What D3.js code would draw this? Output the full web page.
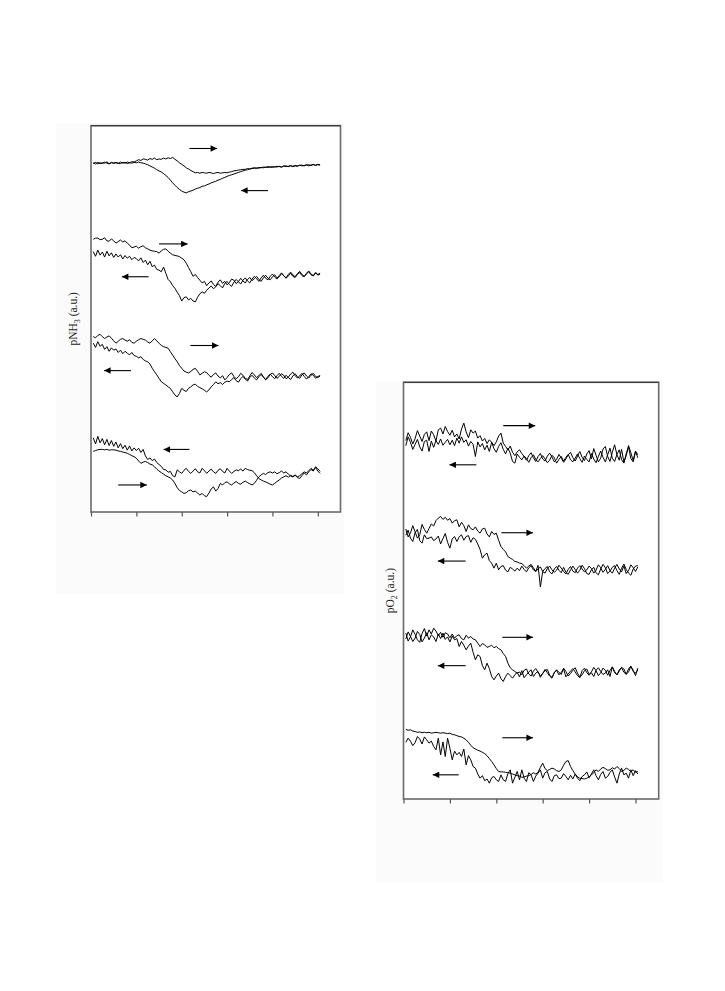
<!DOCTYPE html>
<html><head><meta charset="utf-8">
<script src="https://cdn.jsdelivr.net/npm/d3@7"></script>
<style>body{margin:0;background:#fff}</style>
</head><body>
<svg id="c" width="725" height="991"></svg>
<script>
// time axis (a.u.) — samples every 0.05 starting at 0.05
const tStart = 0.05, tStep = 0.05;
const xTicks = [0, 1, 2, 3, 4, 5];

// ---------- pNH3 (a.u.) ----------
const nh3_1a = [90.2,90.5,90.1,90.4,90.2,90.6,90.3,90.1,90.5,90.3,
 90.4,90.2,90.6,90.3,90.5,90.2,90.4,90.7,90.6,90.9,
 91.2,91.0,91.4,91.3,91.1,91.5,91.3,91.6,91.2,91.4,
 91.3,91.6,91.4,91.7,91.5,91.8,91.3,90.9,90.4,90.0,
 89.6,89.1,88.8,88.4,88.1,87.8,87.9,87.7,87.9,87.8,
 87.7,87.9,87.8,87.6,87.8,87.9,87.7,87.8,87.9,87.8,
 88.0,88.1,88.3,88.4,88.5,88.6,88.7,88.7,88.9,88.8,
 89.0,89.1,88.9,89.2,89.1,89.3,89.2,89.4,89.3,89.2,
 89.4,89.3,89.5,89.3,89.6,89.4,89.5,89.7,89.4,89.6,
 89.5,89.8,89.6,89.7,89.9,89.6,89.8,90.0,89.7,89.9,89.8];
const nh3_1b = [90.4,90.1,90.5,90.2,90.4,90.3,90.6,90.2,90.4,90.3,
 90.5,90.3,90.2,90.5,90.3,90.6,90.4,90.3,90.5,90.4,
 90.6,90.4,90.3,90.1,89.9,89.6,89.3,89.0,88.6,88.3,
 88.0,87.6,87.1,86.6,85.9,85.2,84.6,84.0,83.5,83.1,
 82.8,82.6,82.9,83.1,83.3,83.6,83.8,84.0,84.3,84.4,
 84.7,84.9,85.2,85.4,85.6,85.9,86.1,86.4,86.6,86.9,
 87.1,87.3,87.5,87.7,87.9,88.1,88.3,88.5,88.6,88.8,
 88.9,89.0,89.1,89.0,89.2,89.1,89.3,89.2,89.3,89.4,
 89.3,89.5,89.4,89.3,89.5,89.6,89.4,89.6,89.5,89.7,
 89.6,89.7,89.8,89.6,89.8,89.9,89.7,89.9,89.8,90.0,89.9];
const nh3_2a = [70.6,70.9,70.9,70.5,70.6,71.0,70.2,70.1,70.7,70.2,
 69.6,70.0,70.4,69.9,70.2,69.6,69.1,68.4,68.6,68.8,
 68.3,68.7,68.9,68.4,68.1,67.8,67.6,67.5,67.4,67.0,
 67.6,68.0,68.1,67.5,67.0,66.6,66.4,66.3,66.1,65.7,
 65.3,64.4,63.3,62.2,61.0,61.5,60.7,60.0,59.3,59.7,
 58.6,59.3,59.8,58.9,58.4,59.5,60.1,59.2,59.7,58.8,
 59.4,60.3,60.0,59.1,59.6,60.5,59.8,59.3,60.2,60.7,
 59.9,60.4,61.0,60.2,59.7,60.6,61.3,60.5,60.1,60.9,
 61.4,60.6,60.9,61.7,61.2,60.5,61.1,61.8,61.0,60.7,
 61.5,62.0,61.2,60.9,61.6,62.2,61.4,61.1,61.9,61.3,61.6];
const nh3_2b = [67.4,66.2,67.8,66.5,67.3,66.0,67.5,66.3,67.1,65.9,
 66.8,66.0,66.6,65.5,66.4,65.7,66.2,65.3,65.9,65.6,
 65.0,65.8,64.6,65.2,64.0,64.9,63.5,63.9,62.8,62.6,
 62.2,63.4,61.8,60.2,59.6,58.6,57.9,56.9,56.0,54.6,
 55.5,55.7,54.9,55.3,54.6,54.4,55.6,56.5,57.0,56.6,
 57.4,58.0,58.5,57.8,58.3,59.1,58.6,58.0,59.2,59.7,
 58.9,58.4,59.5,60.2,59.6,59.0,60.0,60.6,59.8,59.3,
 60.3,61.0,60.4,59.7,60.6,61.3,60.5,60.1,61.0,61.6,
 60.8,60.3,61.2,61.9,61.1,60.6,61.5,62.1,61.4,60.9,
 61.7,62.3,61.5,61.0,61.8,62.4,61.6,61.2,62.0,61.5,61.8];
const nh3_3a = [45.4,45.1,45.7,46.0,45.4,44.9,45.3,45.6,45.0,44.3,
 43.7,44.2,44.7,44.9,44.5,44.2,44.6,43.9,43.7,44.2,
 44.6,44.9,44.7,44.5,44.0,43.7,44.3,44.9,44.3,43.7,
 43.1,42.8,42.6,42.4,41.5,40.6,39.7,38.9,37.9,37.2,
 36.5,36.2,36.0,36.4,36.9,37.2,36.4,35.5,35.9,36.3,
 36.1,35.4,34.9,35.6,36.0,35.2,34.7,35.3,34.2,34.8,
 35.6,36.0,35.1,34.5,35.0,35.9,35.4,34.6,34.3,35.2,
 36.1,35.5,34.8,35.3,35.9,35.0,34.2,34.7,35.6,36.0,
 35.3,34.6,35.1,35.8,35.4,34.5,34.9,35.7,36.2,35.3,
 34.7,35.2,35.9,35.1,34.4,35.0,35.8,35.4,34.6,35.1,35.3];
const nh3_3b = [43.7,42.6,44.1,42.9,43.4,42.1,42.8,41.6,42.5,41.9,
 42.2,41.3,41.9,41.0,41.6,41.1,40.7,41.3,40.5,40.3,
 39.9,40.2,39.5,39.1,38.9,38.3,37.2,36.3,35.5,34.6,
 33.7,33.3,32.9,32.4,32.0,31.1,30.3,29.8,30.7,32.0,
 31.5,31.2,32.0,32.4,32.9,33.1,32.5,32.2,31.9,31.5,
 31.1,31.6,32.4,33.0,33.7,33.2,33.5,33.0,33.6,33.9,
 33.7,34.3,34.8,34.0,33.6,34.5,35.1,34.4,33.9,34.8,
 35.4,34.7,34.2,35.0,35.6,34.9,34.3,35.1,35.7,35.0,
 34.5,35.3,35.9,35.1,34.6,35.4,34.8,34.3,35.2,35.8,
 35.0,34.6,35.5,36.0,35.2,34.7,35.4,35.9,35.1,34.8,35.2];
const nh3_4a = [15.7,15.9,16.1,16.2,16.2,16.1,16.2,16.0,16.1,16.1,
 16.0,15.8,15.7,15.5,15.4,15.2,14.9,14.6,14.3,13.9,
 13.2,12.6,12.9,13.1,12.8,12.4,12.2,11.7,11.1,10.6,
 10.2,9.8,9.4,9.1,8.8,8.3,7.4,6.3,5.6,5.2,
 4.8,5.0,5.5,5.7,5.2,5.4,4.9,4.4,4.8,4.2,
 4.0,4.9,6.0,6.5,5.4,6.1,7.4,7.0,7.6,7.8,
 7.3,7.0,7.5,7.9,7.4,7.2,7.7,8.0,7.6,7.3,
 7.0,7.4,8.2,9.1,9.6,10.0,9.7,10.2,10.4,10.1,
 10.4,9.9,10.2,10.6,10.1,10.4,9.8,9.3,9.1,9.5,
 8.9,8.7,9.4,10.1,9.6,10.4,11.0,10.6,11.7,11.2,10.5];
const nh3_4b = [19.2,17.6,19.6,17.9,19.0,17.4,18.8,17.2,18.5,17.0,
 18.1,16.6,17.7,16.4,17.3,16.0,17.1,15.8,16.6,15.9,
 16.5,15.4,16.2,14.5,13.6,14.0,13.3,13.7,12.8,12.3,
 11.8,11.0,10.9,10.3,10.5,9.4,9.1,10.9,10.4,10.0,
 10.8,11.3,10.5,10.0,10.6,11.2,10.4,10.1,11.3,10.7,
 10.0,10.6,11.1,10.4,10.0,10.8,11.2,10.5,10.1,11.3,
 10.6,10.0,10.5,10.9,10.7,11.1,10.6,11.3,11.0,10.8,
 10.7,10.2,9.4,8.7,8.3,8.0,7.8,7.5,7.2,7.0,
 7.4,7.9,8.3,8.8,9.1,9.4,9.0,9.5,9.2,9.6,
 9.1,9.4,9.9,10.4,10.1,10.7,11.3,10.8,11.5,10.6,10.0];
// arrows: [from t, to t, level]
const nh3Arrows = [[2.17,2.78,94.1],[3.90,3.31,83.2],[1.50,2.13,69.4],[1.27,0.68,60.9],
 [2.19,2.81,43.1],[0.88,0.29,36.6],[2.17,1.60,16.2],[0.60,1.23,7.0]];

// ---------- pO2 (a.u.) ----------
const o2_1a = [86.0,87.9,86.8,85.2,86.5,88.4,87.1,85.8,87.5,88.1,
 86.0,88.3,87.4,85.9,88.6,89.0,87.6,89.4,88.2,87.3,
 88.5,86.9,87.6,86.4,88.8,90.2,88.1,86.7,88.6,87.8,
 88.3,86.6,87.2,85.9,86.5,85.3,86.2,85.6,84.8,85.7,
 87.1,87.8,85.4,84.6,83.8,84.7,83.2,82.4,83.3,83.8,
 82.9,82.2,81.3,82.4,83.1,81.9,81.0,82.2,82.9,81.6,
 81.1,82.3,83.0,82.1,80.9,81.5,82.7,81.8,80.8,81.6,
 82.6,83.2,81.9,81.1,82.3,83.4,82.0,81.2,82.8,83.6,
 81.6,84.1,82.5,80.9,81.8,84.0,84.6,82.2,81.0,83.2,
 85.0,82.6,81.3,83.9,80.8,82.4,84.8,83.1,81.2,83.5,82.6];
const o2_1b = [84.8,86.9,85.6,83.9,85.1,86.3,84.5,83.5,85.8,86.1,
 83.4,85.9,84.4,86.0,85.1,86.4,84.9,85.6,86.3,85.0,
 86.1,84.8,86.6,85.4,86.9,85.6,86.2,84.7,85.8,85.1,
 82.2,85.7,84.5,85.3,83.8,84.9,83.4,85.6,84.1,83.2,
 84.6,85.5,83.9,82.8,84.2,83.0,81.0,80.6,82.8,82.0,
 81.4,82.3,81.7,80.8,81.9,82.6,81.5,80.9,81.7,82.4,
 81.6,80.7,81.3,82.5,81.9,80.6,81.5,82.2,81.1,82.0,
 82.7,81.4,80.9,81.8,82.8,81.7,80.8,82.3,81.5,80.9,
 82.9,81.6,80.7,82.2,83.5,82.0,80.9,82.6,84.2,81.8,
 81.0,82.7,83.8,81.4,80.6,82.9,84.5,81.7,80.9,83.4,81.9];
const o2_2a = [64.8,62.9,63.8,65.6,64.1,62.6,63.4,65.9,64.7,63.8,
 64.9,66.0,65.5,66.8,67.4,67.8,67.1,67.6,66.9,67.3,
 66.2,66.8,67.0,65.3,66.4,65.6,64.2,65.8,64.9,64.6,
 65.3,64.3,63.8,64.8,65.0,63.6,62.9,64.2,63.5,63.8,
 62.1,60.6,59.9,59.3,58.2,57.8,57.5,57.0,56.9,56.6,
 56.5,56.0,55.4,55.9,56.3,55.5,54.6,55.2,55.7,54.6,
 54.2,55.3,55.9,55.0,54.4,54.9,56.1,55.4,54.6,54.0,
 55.1,55.8,54.7,54.3,55.4,56.0,55.2,54.5,55.0,55.9,
 55.3,54.2,54.9,56.2,55.5,54.4,55.1,56.0,54.8,54.2,
 55.4,56.3,55.2,54.5,55.9,54.1,54.8,56.2,55.5,54.6,55.7];
const o2_2b = [63.3,64.5,62.6,61.8,63.9,64.7,62.0,61.4,63.4,62.5,
 62.6,62.9,62.0,62.4,63.1,61.2,62.5,63.7,61.6,60.2,
 62.4,63.0,61.8,62.9,63.4,62.1,63.0,63.2,61.6,62.7,
 62.3,61.2,59.9,57.8,58.6,59.0,57.2,56.6,55.4,56.6,
 55.0,55.8,56.0,54.9,54.5,55.6,55.2,54.7,55.4,54.8,
 55.9,55.1,54.5,55.5,56.0,55.0,54.6,56.1,50.9,54.6,
 55.3,55.8,54.5,54.0,55.2,55.8,54.9,54.3,55.6,54.4,
 53.9,55.0,55.9,55.1,54.2,54.9,56.1,55.3,54.1,53.9,
 55.0,55.6,54.3,53.8,55.2,56.3,55.5,54.1,54.7,55.6,
 56.0,54.8,53.9,55.4,56.4,55.1,54.2,53.7,55.2,55.9,56.0];
const o2_3a = [39.8,37.9,38.9,40.6,39.5,38.2,37.6,39.7,40.9,39.1,
 40.6,39.6,41.0,40.3,39.2,40.0,38.8,39.9,39.6,38.7,
 39.6,38.6,39.2,39.4,38.5,38.2,39.3,38.6,39.0,38.4,
 38.2,37.4,36.6,37.3,37.0,36.4,36.6,36.9,36.3,36.6,
 36.1,35.8,34.9,34.2,32.6,31.5,31.0,30.6,30.2,30.5,
 29.8,30.9,31.2,30.0,29.5,30.7,31.3,30.4,29.6,30.1,
 30.8,31.1,29.7,29.2,30.3,31.0,30.4,29.9,31.4,30.6,
 29.5,30.1,30.9,31.5,30.2,29.3,29.8,30.8,31.2,29.9,
 30.5,31.6,30.8,29.6,30.3,31.4,30.9,29.7,30.8,31.7,
 30.6,29.8,31.0,31.5,30.4,30.0,31.2,31.9,30.6,30.2,31.0];
const o2_3b = [38.4,40.1,39.0,37.8,38.6,40.2,39.5,37.7,38.6,39.9,
 38.2,39.4,38.9,37.8,39.6,38.5,39.8,38.3,38.9,37.7,
 39.1,38.2,38.5,36.6,37.8,36.9,35.8,36.7,37.4,35.2,
 33.4,34.6,34.2,32.0,31.0,32.6,31.3,29.4,28.6,29.5,
 30.2,28.9,28.2,29.4,30.2,29.6,29.0,29.8,30.4,29.3,
 30.8,29.1,29.8,30.5,31.0,29.4,30.2,30.6,29.2,30.1,
 31.1,30.3,29.5,29.0,30.4,30.9,29.8,30.4,31.2,29.3,
 30.0,30.7,31.3,30.5,29.6,29.1,30.8,31.4,30.3,29.7,
 30.3,29.4,30.9,31.5,30.6,29.9,30.2,31.0,29.4,31.7,
 30.3,29.8,30.7,31.6,31.2,29.9,30.5,31.8,30.9,29.6,31.4];
const o2_4a = [16.7,16.5,16.6,16.3,16.2,16.0,16.1,15.9,16.0,15.9,
 16.0,15.8,15.9,16.0,15.9,15.8,15.9,15.8,15.7,15.8,
 15.5,15.4,15.2,15.0,14.9,14.6,14.2,13.6,12.9,12.3,
 12.0,11.7,11.5,11.2,10.9,10.4,9.7,9.0,8.2,7.3,
 6.6,6.5,6.5,6.4,6.3,6.2,6.0,5.8,5.6,5.5,
 5.2,5.3,5.5,5.6,5.9,6.3,6.0,6.4,7.6,8.6,
 7.3,6.8,7.1,7.4,7.2,6.8,6.6,7.0,8.1,9.0,
 9.2,7.8,6.8,6.0,5.3,5.0,4.9,4.8,5.0,5.3,
 5.8,6.3,7.0,6.6,7.2,7.6,7.3,6.9,7.0,7.5,
 7.2,7.8,7.3,6.6,6.9,7.4,7.1,6.6,7.0,6.4,6.6];
const o2_4b = [13.6,14.6,13.9,12.8,13.5,15.0,14.4,13.2,14.9,14.2,
 13.4,13.9,12.6,11.8,14.6,10.6,13.7,10.2,14.6,12.2,
 9.4,11.5,10.6,11.2,10.2,12.0,8.2,10.4,9.4,7.8,
 7.4,6.0,5.0,5.6,4.4,4.8,3.8,5.1,5.4,4.6,
 4.2,5.8,4.6,4.2,6.1,7.0,3.8,5.2,6.6,4.6,
 7.0,5.0,4.2,6.3,5.8,4.2,5.5,6.2,7.0,5.0,
 6.3,6.6,4.8,4.2,5.6,5.8,4.9,5.0,6.1,5.4,
 4.6,5.7,4.8,6.0,5.0,4.4,5.4,5.8,6.5,5.1,
 6.0,7.0,5.6,4.6,5.9,6.6,5.0,5.4,6.4,7.0,
 5.3,3.8,6.0,7.4,5.8,6.2,5.0,7.0,5.6,6.8,6.0];
const o2Arrows = [[2.15,2.84,89.6],[1.57,0.99,80.2],[2.11,2.79,63.9],[1.34,0.74,57.1],
 [2.13,2.79,38.8],[1.34,0.74,32.0],[2.13,2.79,14.7],[1.19,0.63,5.8]];

// ---------- drawing ----------
const svg = d3.select("#c");
svg.append("rect").attr("width",725).attr("height",991).attr("fill","#fff");
const defs = svg.append("defs");
defs.append("marker").attr("id","ah").attr("viewBox","0 0 10 10")
  .attr("refX",10).attr("refY",5).attr("markerWidth",8).attr("markerHeight",6.5)
  .attr("markerUnits","userSpaceOnUse").attr("orient","auto")
  .append("path").attr("d","M0,0L10,5L0,10Z").attr("fill","#000");

const panels = [
  {series:[nh3_1a,nh3_1b,nh3_2a,nh3_2b,nh3_3a,nh3_3b,nh3_4a,nh3_4b], arrows:nh3Arrows,
   label:["pNH","3"," (a.u.)"], box:[91,125.7,340.5,512], bg:[56,123,344,594], labelX:77},
  {series:[o2_1a,o2_1b,o2_2a,o2_2b,o2_3a,o2_3b,o2_4a,o2_4b], arrows:o2Arrows,
   label:["pO","2"," (a.u.)"], box:[403.5,382.3,658.7,799], bg:[376,381,663,883], labelX:394}
];

panels.forEach(p => {
  const [L,T,R,B] = p.box;
  svg.append("rect").attr("x",p.bg[0]).attr("y",p.bg[1])
    .attr("width",p.bg[2]-p.bg[0]).attr("height",p.bg[3]-p.bg[1]).attr("fill","#fbfbfb");
  svg.append("rect").attr("x",L).attr("y",T).attr("width",R-L).attr("height",B-T)
    .attr("fill","#fff");
  const x = d3.scaleLinear().domain([0,5.5]).range([L,R]);
  const y = d3.scaleLinear().domain([0,100]).range([B,T]);
  const g = svg.append("g");
  const line = d3.line().x((d,i)=>x(tStart+i*tStep)).y(d=>y(d));
  g.selectAll("path.s").data(p.series).join("path").attr("class","s")
    .attr("d",line).attr("fill","none").attr("stroke","#000")
    .attr("stroke-width",1).attr("stroke-linejoin","round");
  g.selectAll("line.ar").data(p.arrows).join("line").attr("class","ar")
    .attr("x1",d=>x(d[0])).attr("x2",d=>x(d[1]))
    .attr("y1",d=>y(d[2])).attr("y2",d=>y(d[2]))
    .attr("stroke","#000").attr("stroke-width",1.1).attr("marker-end","url(#ah)");
  // frame
  svg.append("rect").attr("x",L).attr("y",T).attr("width",R-L).attr("height",B-T)
    .attr("fill","none").attr("stroke","#6a6a6a").attr("stroke-width",1.6);
  svg.append("line").attr("x1",L).attr("x2",R).attr("y1",T).attr("y2",T)
    .attr("stroke","#333").attr("stroke-width",1);
  // x axis ticks
  const ax = svg.append("g").attr("transform",`translate(0,${B})`)
    .call(d3.axisBottom(x).tickValues(xTicks).tickSize(4.5).tickFormat(""));
  ax.select(".domain").remove();
  ax.selectAll(".tick line").attr("stroke","#555").attr("stroke-width",1.2);
  // y label
  const cy = (T+B)/2;
  const t = svg.append("text").attr("transform",`translate(${p.labelX},${cy}) rotate(-90)`)
    .attr("text-anchor","middle").attr("font-family","Liberation Serif, Times New Roman, serif")
    .attr("font-size",11.5).attr("fill","#222");
  t.append("tspan").text(p.label[0]);
  t.append("tspan").attr("font-size",8).attr("dy",3).text(p.label[1]);
  t.append("tspan").attr("dy",-3).text(p.label[2]);
});
</script>
</body></html>
